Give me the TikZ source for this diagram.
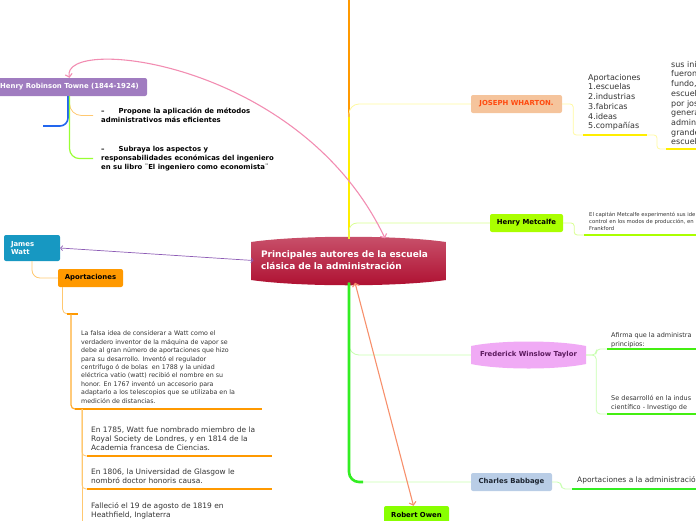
\documentclass[tikz,border=0pt]{standalone}
\usepackage{fontspec}
\setmainfont{DejaVu Sans}
\usetikzlibrary{arrows.meta}

\definecolor{rojoA}{HTML}{C9526C}
\definecolor{rojoB}{HTML}{AE0F30}
\definecolor{naranja}{HTML}{FF9900}
\definecolor{naranjaClaro}{HTML}{FFC870}
\definecolor{amarillo}{HTML}{FFEE00}
\definecolor{amarilloClaro}{HTML}{FFF9A0}
\definecolor{lima}{HTML}{AAFF00}
\definecolor{limaClaro}{HTML}{D8FF90}
\definecolor{verde}{HTML}{33EE22}
\definecolor{verdeClaro}{HTML}{C8FFB0}
\definecolor{verdeRaya}{HTML}{44EE11}
\definecolor{durazno}{HTML}{F5C49C}
\definecolor{textoWharton}{HTML}{FF4A10}
\definecolor{rosaClaro}{HTML}{F0AAF5}
\definecolor{textoTaylor}{HTML}{5C1A5E}
\definecolor{celeste}{HTML}{B9CDE6}
\definecolor{textoBabbage}{HTML}{1C2430}
\definecolor{verdeOwen}{HTML}{88FF00}
\definecolor{lavanda}{HTML}{A07CC0}
\definecolor{turquesa}{HTML}{1798C2}
\definecolor{rosa}{HTML}{F28DB2}
\definecolor{salmon}{HTML}{F7906C}
\definecolor{morado}{HTML}{8D5CB5}
\definecolor{azul}{HTML}{2266EE}
\definecolor{verdeLima}{HTML}{99FF33}
\definecolor{grisNota}{HTML}{333333}

\tikzset{
  autor/.style={rounded corners=2pt, inner sep=0pt, minimum height=18pt, font=\bfseries\fontsize{6.9}{8}\selectfont},
  nota/.style={anchor=north west, inner sep=0pt, align=left, text=grisNota},
  rama/.style={line width=0.8pt, rounded corners=5pt},
  raya/.style={line width=2.6pt},
  flecha/.style={line width=1.1pt, {Straight Barb[length=3pt,width=7pt]}-{Straight Barb[length=3pt,width=7pt]}}
}

\begin{document}
\begin{tikzpicture}[x=1pt,y=-1pt]
  \useasboundingbox (0,0) rectangle (696,520);

  % Tema central
  \shade[top color=rojoA, bottom color=rojoB] (251,242) .. controls (300,235) and (397,235) .. (446,242) -- (446,280) .. controls (397,287) and (300,287) .. (251,280) -- cycle;
  \node[inner sep=0pt, minimum width=195pt, minimum height=44pt, text width=180pt, align=left, text=white, font=\bfseries\fontsize{9}{12}\selectfont] (centro) at (351,260.5) {Principales autores de la escuela\\clásica de la administración};

  % Autores
  \node[autor, fill=durazno, text=textoWharton, minimum width=91pt] (wharton) at (516.5,104) {JOSEPH WHARTON.};
  \node[autor, fill=lima, minimum width=73pt] (metcalfe) at (526.5,223) {Henry Metcalfe};
  \fill[rosaClaro] (471,346) .. controls (500,340) and (557,340) .. (586,346) -- (586,364) .. controls (557,370) and (500,370) .. (471,364) -- cycle;
  \node[autor, text=textoTaylor, minimum width=115pt, minimum height=26pt] (taylor) at (528.5,355) {Frederick Winslow Taylor};
  \node[autor, fill=celeste, text=textoBabbage, minimum width=81pt] (babbage) at (511.5,482) {Charles Babbage};
  \node[autor, fill=verdeOwen, minimum width=65pt] (owen) at (416.5,515) {Robert Owen};
  \node[autor, fill=lavanda, text=white, minimum width=155pt] (towne) at (69.5,87) {Henry Robinson Towne (1844-1924)};
  \node[autor, fill=turquesa, text=white, minimum width=56pt, minimum height=26pt, text width=42pt, align=left, font=\bfseries\fontsize{6.9}{8.5}\selectfont] (watt) at (32,248) {James\\Watt};
  \node[autor, fill=naranja, minimum width=65pt] (aport) at (90.5,278) {Aportaciones};

  % Tronco
  \coordinate (arriba) at (349,0);
  \coordinate (tronco) at (349,238.5);
  \coordinate (troncobajo) at (349,282.5);
  \draw[raya, naranja] (tronco) -- (arriba);
  \draw[rama, amarilloClaro, rounded corners=10pt] (tronco) |- (wharton.west);
  \draw[raya, amarillo] (tronco) -- ++(0,-122);
  \draw[rama, limaClaro, rounded corners=8pt] (tronco) |- (metcalfe.west);
  \draw[rama, verdeClaro, rounded corners=10pt] (troncobajo) |- (taylor.west);
  \draw[rama, verdeClaro, rounded corners=10pt] (troncobajo) |- (babbage.west);
  \draw[raya, verde, rounded corners=10pt] (troncobajo) |- ++(14,199.5);

  % Flechas
  \draw[flecha, rosa] ([xshift=34pt]centro.north) .. controls (300,60) and (60,35) .. (towne.north);
  \draw[flecha, salmon] ([xshift=4pt]centro.south) -- ([xshift=-3pt]owen.north);
  \draw[flecha, morado, line width=0.7pt, {Straight Barb[length=2pt,width=5pt]}-{Straight Barb[length=2pt,width=5pt]}] (watt.east) -- (centro.west);

  % Joseph Wharton
  \node[nota, font=\fontsize{8}{9.7}\selectfont] (jlista) at (588,74) {Aportaciones\\1.escuelas\\2.industrias\\3.fabricas\\4.ideas\\5.compañías};
  \node[nota, font=\fontsize{8}{9.7}\selectfont] (jtexto) at (671,61) {sus ini\\fueron\\fundo,\\escuel\\por jos\\genera\\admin\\grande\\escuel};
  \coordinate (j1a) at (583,135); \coordinate (j1b) at (647,135);
  \coordinate (j2a) at (666,149); \coordinate (j2b) at (700,149);
  \draw[rama, amarilloClaro, rounded corners=3pt] (wharton.east) -- ++(11,0) |- (j1a);
  \draw[raya, amarillo] (j1a) -- (j1b);
  \draw[rama, amarilloClaro, rounded corners=3pt] (j1b) -- ++(10,0) |- (j2a);
  \draw[raya, amarillo] (j2a) -- (j2b);

  % Henry Metcalfe
  \node[nota, font=\fontsize{5.3}{6.7}\selectfont] (mtexto) at (589,212.5) {El capitán Metcalfe experimentó sus ide\\control en los modos de producción, en\\Frankford};
  \coordinate (m1a) at (584,235); \coordinate (m1b) at (700,235);
  \draw[rama, limaClaro, rounded corners=3pt] (metcalfe.east) -- ++(11,0) |- (m1a);
  \draw[raya, lima] (m1a) -- (m1b);

  % Taylor
  \node[nota, font=\fontsize{6.5}{9}\selectfont] (ttexto1) at (611,332) {Afirma que la administra\\principios:};
  \node[nota, font=\fontsize{6.5}{9}\selectfont] (ttexto2) at (611,395) {Se desarrolló en la indus\\científico - Investigo de};
  \coordinate (t1a) at (607,349); \coordinate (t2a) at (607,414);
  \draw[rama, verdeClaro, rounded corners=4pt] (taylor.east) -- ++(10,0) |- (t1a);
  \draw[rama, verdeClaro, rounded corners=4pt] (taylor.east) -- ++(10,0) |- (t2a);
  \draw[raya, verdeRaya] (t1a) -- (700,349);
  \draw[raya, verdeRaya] (t2a) -- (700,414);

  % Babbage
  \node[nota, font=\fontsize{7.5}{9}\selectfont] (btexto) at (577,476) {Aportaciones a la administración};
  \coordinate (b1a) at (572,489);
  \draw[rama, verdeClaro, rounded corners=4pt] (babbage.east) -- ++(9,0) |- (b1a);
  \draw[raya, verde] (b1a) -- (700,489);

  % Towne
  \node[nota, text=black, font=\bfseries\fontsize{6.9}{9}\selectfont] (tp1) at (101,108) {–\hspace{14pt}Propone la aplicación de métodos\\administrativos más eficientes};
  \node[nota, text=black, font=\bfseries\fontsize{6.9}{9}\selectfont] (tp2) at (101,146) {–\hspace{14pt}Subraya los aspectos y\\responsabilidades económicas del ingeniero\\en su libro ¨El ingeniero como economista¨};
  \coordinate (azulfin) at (43,126);
  \draw[line width=1.6pt, azul, rounded corners=8pt] ([xshift=-1.5pt]towne.south) |- (azulfin);
  \draw[rama, naranjaClaro, rounded corners=12pt] (towne.south) |- ([xshift=-8pt]tp1.west);
  \draw[line width=1.2pt, verdeLima, rounded corners=10pt] (towne.south) |- ([xshift=-8pt]tp2.west);

  % James Watt
  \draw[rama, naranjaClaro, rounded corners=8pt] (watt.south) |- (aport.west);
  \coordinate (a1) at (67,314); \coordinate (a2) at (78,314);
  \draw[rama, naranjaClaro] ([xshift=-28pt]aport.south) |- (a1);
  \draw[raya, naranja] (a1) -- (a2);
  \node[nota, font=\fontsize{6.3}{8.4}\selectfont] (wp1) at (81,331) {La falsa idea de considerar a Watt como el\\verdadero inventor de la máquina de vapor se\\debe al gran número de aportaciones que hizo\\para su desarrollo. Inventó el regulador\\centrífugo ó de bolas \ en 1788 y la unidad\\eléctrica vatio (watt) recibió el nombre en su\\honor. En 1767 inventó un accesorio para\\adaptarlo a los telescopios que se utilizaba en la\\medición de distancias.};
  \node[nota, font=\fontsize{7.45}{9}\selectfont] (wp2) at (91,426.5) {En 1785, Watt fue nombrado miembro de la\\Royal Society de Londres, y en 1814 de la\\Academia francesa de Ciencias.};
  \node[nota, font=\fontsize{7.45}{9}\selectfont] (wp3) at (91,468.5) {En 1806, la Universidad de Glasgow le\\nombró doctor honoris causa.};
  \node[nota, font=\fontsize{7.45}{9}\selectfont] (wp4) at (91,502.5) {Falleció el 19 de agosto de 1819 en\\Heathfield, Inglaterra};
  \coordinate (a3) at (71,314);
  \coordinate (w1a) at (75,409); \coordinate (w1b) at (262,409);
  \coordinate (w1c) at (82,409);
  \coordinate (w2a) at (87,456); \coordinate (w2b) at (272,456);
  \coordinate (w3a) at (87,489); \coordinate (w3b) at (272,489);
  \coordinate (wfin) at (82,522);
  \draw[line width=1.2pt, naranja!80, rounded corners=4pt] (a3) |- (w1a);
  \draw[raya, naranja] (w1a) -- (w1b);
  \draw[rama, naranjaClaro, rounded corners=4pt] (w1c) |- (w2a);
  \draw[rama, naranjaClaro, rounded corners=4pt] (w1c) |- (w3a);
  \draw[rama, naranjaClaro] (w1c) -- (wfin);
  \draw[raya, naranja] (w2a) -- (w2b);
  \draw[raya, naranja] (w3a) -- (w3b);
\end{tikzpicture}
\end{document}
